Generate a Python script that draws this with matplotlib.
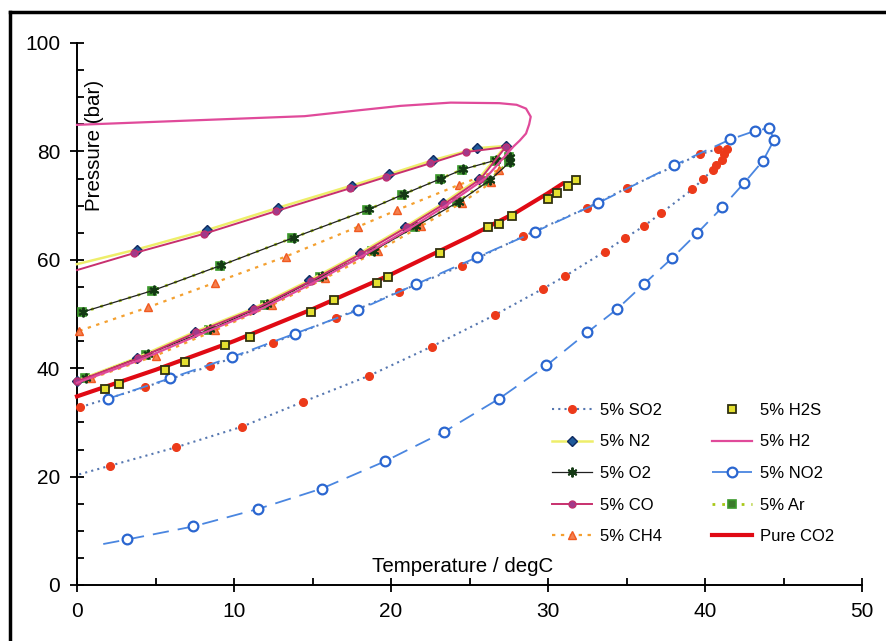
import matplotlib
matplotlib.use("Agg")
import matplotlib.pyplot as plt
from matplotlib.ticker import MultipleLocator
from matplotlib.lines import Line2D

plt.rcParams['font.family'] = ['Liberation Sans', 'DejaVu Sans']

# ---- phase-envelope data (temperature degC, pressure bar) ----
# 5% SO2: bubble (upper) and dew (lower) branches
so2_bub_t = [0.2, 4.3, 8.5, 12.5, 16.5, 20.5, 24.5, 28.4, 32.5, 35.0, 39.7, 40.8, 41.4]
so2_bub_p = [32.8, 36.5, 40.4, 44.7, 49.2, 54.1, 58.9, 64.3, 69.6, 73.2, 79.5, 80.4, 80.5]
so2_dew_t = [41.2, 41.1, 40.7, 40.5, 39.9, 39.2, 37.2, 36.1, 34.9, 33.6, 31.1, 29.7,
             26.6, 22.6, 18.6, 14.4, 10.5, 6.3, 2.1, 0.0]
so2_dew_p = [79.6, 78.4, 77.5, 76.6, 75.0, 73.0, 68.6, 66.2, 64.0, 61.5, 57.0, 54.7,
             49.8, 44.0, 38.6, 33.8, 29.2, 25.4, 22.0, 20.3]

# 5% N2
n2_bub_t = [0.0, 3.8, 8.3, 12.8, 17.5, 19.9, 22.7, 25.5, 27.3]
n2_bub_p = [59.2, 61.9, 65.5, 69.6, 73.7, 75.8, 78.4, 80.6, 81.0]
n2_dew_t = [25.6, 23.3, 20.9, 18.0, 14.8, 11.2, 7.5, 3.8, 0.0]
n2_dew_p = [75.0, 70.4, 66.1, 61.2, 56.2, 51.0, 46.7, 41.9, 37.7]

# 5% O2
o2_bub_t = [0.4, 4.9, 9.2, 13.8, 18.6, 20.8, 23.2, 24.6, 26.7, 27.6]
o2_bub_p = [50.4, 54.4, 59.0, 64.1, 69.3, 72.1, 75.0, 76.7, 78.4, 79.0]
o2_dew_t = [27.6, 26.3, 24.3, 21.6, 18.9, 15.6, 12.1, 8.5, 4.5, 0.6]
o2_dew_p = [78.1, 74.7, 70.7, 66.2, 61.7, 57.0, 51.8, 47.2, 42.6, 38.2]

# 5% CO
co_bub_t = [0.0, 3.6, 8.1, 12.7, 17.4, 19.7, 22.5, 24.8, 27.3]
co_bub_p = [58.1, 61.2, 64.8, 69.0, 73.2, 75.3, 77.8, 79.9, 80.8]
co_dew_t = [25.7, 23.4, 21.0, 18.1, 14.9, 11.3, 7.6, 3.9, 0.0]
co_dew_p = [74.9, 70.3, 66.0, 61.1, 56.1, 50.9, 46.6, 41.8, 37.6]

# 5% CH4
ch4_bub_t = [0.15, 4.5, 8.8, 13.3, 17.9, 20.4, 24.3, 26.9]
ch4_bub_p = [46.9, 51.2, 55.8, 60.6, 66.1, 69.2, 73.8, 76.6]
ch4_dew_t = [26.4, 24.5, 21.9, 19.2, 15.8, 12.4, 8.8, 5.0, 0.9]
ch4_dew_p = [74.3, 70.5, 66.2, 61.7, 56.6, 51.6, 47.0, 42.3, 38.1]

# 5% H2S (points only)
h2s_t = [1.8, 2.7, 5.6, 6.9, 9.4, 11.0, 14.9, 16.4, 19.1, 19.8, 23.1, 26.2, 26.9, 27.7,
         30.0, 30.6, 31.3, 31.8]
h2s_p = [36.1, 37.1, 39.7, 41.2, 44.3, 45.7, 50.4, 52.6, 55.8, 56.9, 61.2, 66.0, 66.6, 68.0,
         71.3, 72.3, 73.6, 74.7]

# 5% H2
h2_t = [0.0, 7.2, 14.5, 18.0, 20.6, 23.8, 26.9, 28.0, 28.6, 28.9, 28.8, 28.6, 28.2, 27.8,
        26.0, 23.6, 21.2, 18.3, 15.1, 11.5, 7.8, 4.0, 0.0]
h2_p = [84.9, 85.7, 86.5, 87.6, 88.4, 89.0, 88.9, 88.6, 87.9, 86.4, 85.0, 83.3, 82.0, 80.9,
        75.0, 70.2, 65.8, 60.9, 55.8, 50.6, 46.2, 41.5, 37.3]

# 5% NO2
no2_bub_t = [2.0, 5.9, 9.9, 13.9, 17.9, 21.6, 25.5, 29.2, 33.2, 38.0, 41.6, 43.2, 44.1, 44.4]
no2_bub_p = [34.4, 38.1, 42.1, 46.4, 50.7, 55.5, 60.5, 65.2, 70.5, 77.4, 82.2, 83.8, 84.3, 82.1]
no2_dew_t = [43.7, 42.5, 41.1, 39.5, 37.9, 36.1, 34.4, 32.5, 29.9, 26.9, 23.4, 19.6, 15.6,
             11.5, 7.4, 3.2, 1.2]
no2_dew_p = [78.3, 74.2, 69.7, 64.9, 60.3, 55.5, 50.9, 46.6, 40.5, 34.4, 28.3, 22.8, 17.8,
             14.0, 10.8, 8.4, 7.3]

# 5% Ar
ar_bub_t = [0.3, 4.8, 9.1, 13.7, 18.5, 20.7, 23.1, 24.5, 26.6, 27.5]
ar_bub_p = [50.3, 54.3, 58.9, 64.0, 69.2, 72.0, 74.9, 76.6, 78.3, 78.9]
ar_dew_t = [27.5, 26.2, 24.2, 21.5, 18.8, 15.5, 12.0, 8.4, 4.4, 0.5]
ar_dew_p = [78.0, 74.6, 70.6, 66.1, 61.6, 56.9, 51.7, 47.1, 42.5, 38.1]

# Pure CO2 saturation line
co2_t = [0.0, 5.0, 10.0, 15.0, 20.0, 25.0, 28.0, 30.0, 30.9]
co2_p = [34.8, 39.7, 45.0, 50.9, 57.3, 64.3, 68.8, 72.3, 74.0]


def loop(bt, bp, dt, dp):
    return list(bt) + list(dt), list(bp) + list(dp)


fig = plt.figure(figsize=(8.86, 6.41), dpi=100)
ax = fig.add_axes([77 / 886, 1 - 585 / 641, (862 - 77) / 886, (585 - 43) / 641])

# 5% SO2
t, p = loop(so2_bub_t, so2_bub_p, so2_dew_t, so2_dew_p)
h_so2, = ax.plot(t, p, linestyle=(0, (1, 2)), color='#5677b0', lw=1.5,
                 marker='o', ms=5.5, mfc='#ec3a1a', mec='#ec3a1a',
                 markevery=list(range(len(t) - 1)), label='5% SO2', zorder=3)

# 5% N2
t, p = loop(n2_bub_t, n2_bub_p, n2_dew_t, n2_dew_p)
h_n2, = ax.plot(t, p, color='#eeee6a', lw=1.8, marker='D', ms=5.5,
                mfc='#1f5a9a', mec='#0f2a60', mew=1.0,
                markevery=list(range(1, len(t))), label='5% N2', zorder=4)

# 5% Ar (under the O2 markers)
t, p = loop(ar_bub_t, ar_bub_p, ar_dew_t, ar_dew_p)
h_ar, = ax.plot(t, p, linestyle=(0, (1, 2.5)), color='#a8c818', lw=2.0,
                marker='s', ms=6, mfc='#3c7a2c', mec='#3c9a2c', mew=1.2,
                label='5% Ar', zorder=3)

# 5% O2
t, p = loop(o2_bub_t, o2_bub_p, o2_dew_t, o2_dew_p)
h_o2, = ax.plot(t, p, color='#202020', lw=0.9, marker=(6, 2, 0), ms=7, mew=1.4,
                mec='#143a14', label='5% O2', zorder=4)

# 5% CO
t, p = loop(co_bub_t, co_bub_p, co_dew_t, co_dew_p)
h_co, = ax.plot(t, p, color='#c8306e', lw=1.4, marker='o', ms=5,
                mfc='#a03a8a', mec='#c03070',
                markevery=list(range(1, len(t))), label='5% CO', zorder=5)

# 5% CH4
t, p = loop(ch4_bub_t, ch4_bub_p, ch4_dew_t, ch4_dew_p)
h_ch4, = ax.plot(t, p, linestyle=(0, (1.5, 2.5)), color='#f4a030', lw=1.6,
                 marker='^', ms=6, mfc='#f48050', mec='#f05a20',
                 label='5% CH4', zorder=3)

# 5% H2S
h_h2s, = ax.plot(h2s_t, h2s_p, linestyle='none', marker='s', ms=5.5,
                 mfc='#e4e030', mec='#303010', mew=1.3, label='5% H2S', zorder=6)

# 5% H2
h_h2, = ax.plot(h2_t, h2_p, color='#e04a9a', lw=1.6, label='5% H2', zorder=5)

# 5% NO2
t, p = loop(no2_bub_t, no2_bub_p, no2_dew_t, no2_dew_p)
h_no2, = ax.plot(t, p, linestyle=(0, (9, 5)), color='#4a86e0', lw=1.3,
                 marker='o', ms=7, mfc='white', mec='#2a66d0', mew=1.6,
                 markevery=list(range(len(t) - 1)), label='5% NO2', zorder=4)

# Pure CO2
h_co2, = ax.plot(co2_t, co2_p, color='#e00a14', lw=3.0, label='Pure CO2', zorder=4)

for ln in ax.get_lines():
    ln.set_clip_on(False)

# ---- axes ----
ax.set_xlim(0, 50)
ax.set_ylim(0, 100)
ax.spines['top'].set_visible(False)
ax.spines['right'].set_visible(False)
for s in ('left', 'bottom'):
    ax.spines[s].set_linewidth(1.4)
ax.xaxis.set_major_locator(MultipleLocator(10))
ax.xaxis.set_minor_locator(MultipleLocator(5))
ax.yaxis.set_major_locator(MultipleLocator(20))
ax.yaxis.set_minor_locator(MultipleLocator(5))
ax.tick_params(which='major', direction='inout', length=10, width=1.3,
               labelsize=15, pad=7)
ax.tick_params(which='minor', direction='in', length=5, width=1.3)

fig.text(95 / 886, 1 - 145 / 641, 'Pressure (bar)', rotation=90,
         ha='center', va='center', fontsize=14.8)
fig.text(463 / 886, 1 - 567 / 641, 'Temperature / degC',
         ha='center', va='center', fontsize=14.8)

# legend
handles = [h_so2, h_n2, h_o2, h_co, h_ch4, h_h2s, h_h2, h_no2, h_ar, h_co2]
leg = ax.legend(handles=handles, ncol=2, loc='upper left',
                bbox_to_anchor=(552 / 886, 1 - 403 / 641),
                bbox_transform=fig.transFigure, frameon=False,
                prop={'size': 12},
                handlelength=2.4, handletextpad=0.5, columnspacing=2.95,
                labelspacing=0.99, borderpad=0, borderaxespad=0)

# outer frame
fig.add_artist(Line2D([10 / 886, 10 / 886], [0, 1 - 12 / 641],
                      transform=fig.transFigure, color='black', lw=2.5))
fig.add_artist(Line2D([10 / 886, 1], [1 - 12 / 641, 1 - 12 / 641],
                      transform=fig.transFigure, color='black', lw=2.5))

fig.savefig('out.png', dpi=100)
